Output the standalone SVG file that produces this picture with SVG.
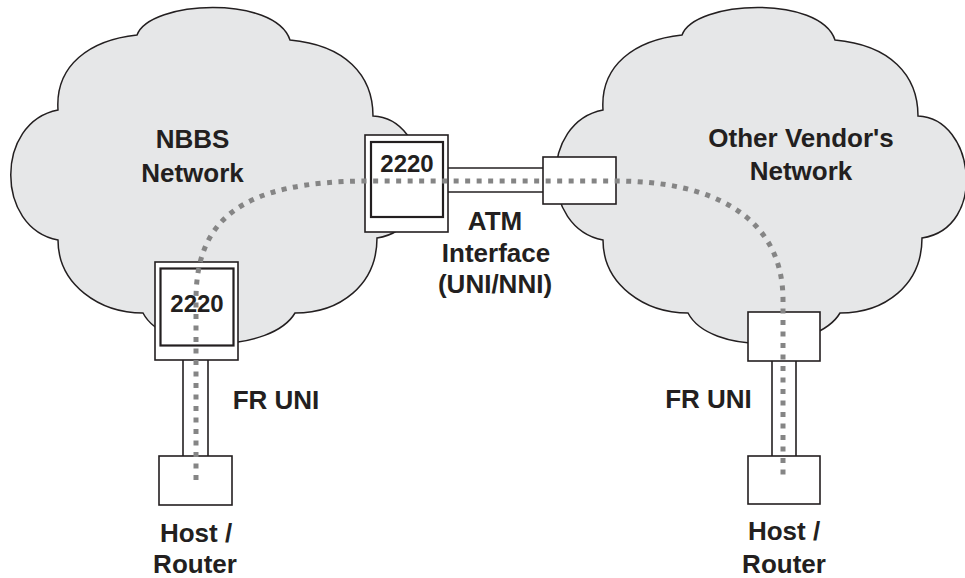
<svg xmlns="http://www.w3.org/2000/svg" width="965" height="578" viewBox="0 0 965 578">
<style>
.cloud{fill:#e6e7e8;stroke:#231f20;stroke-width:1.5}
.box{fill:#ffffff;stroke:#231f20;stroke-width:1.6}
.inner{fill:#ffffff;stroke:#231f20;stroke-width:2.2}
.pipe{fill:#ffffff;stroke:none}
.pline{stroke:#231f20;stroke-width:1.6;fill:none}
.path{fill:none;stroke:#858585;stroke-width:5;stroke-dasharray:5 6.5}
text{font-family:"Liberation Sans",Arial,sans-serif;font-weight:bold;fill:#231f20;text-anchor:middle}
.lbl{font-size:26px}
.num{font-size:24px}
</style>
<defs>
<path id="cloudShape" d="M137,35 C150,0 275,-5 290,40 C345,45 373,75 373,116 C430,118 443,228 377,238 C377,285 340,313 295,313 C272,352 165,355 143,313 C100,313 58,285 58,240 C-5,228 -5,122 58,110 C55,65 90,40 137,35 Z"/>
</defs>
<g id="cloud-nbbs">
<use href="#cloudShape" class="cloud"/>
<text class="lbl" x="192.5" y="148">NBBS</text>
<text class="lbl" x="192.5" y="182">Network</text>
</g>
<g id="cloud-other">
<use href="#cloudShape" class="cloud" transform="translate(545,0)"/>
<text class="lbl" x="801" y="147">Other Vendor's</text>
<text class="lbl" x="801" y="180">Network</text>
</g>
<g id="connectors">
<g id="pipe-atm">
<rect class="pipe" x="448" y="168" width="95" height="24"/>
<line class="pline" x1="448" y1="168" x2="543" y2="168"/>
<line class="pline" x1="448" y1="192" x2="543" y2="192"/>
</g>
<g id="pipe-fr-left">
<rect class="pipe" x="183" y="360" width="25" height="96"/>
<line class="pline" x1="183" y1="360" x2="183" y2="456"/>
<line class="pline" x1="208" y1="360" x2="208" y2="456"/>
</g>
<g id="pipe-fr-right">
<rect class="pipe" x="772" y="361" width="24" height="95"/>
<line class="pline" x1="772" y1="361" x2="772" y2="456"/>
<line class="pline" x1="796" y1="361" x2="796" y2="456"/>
</g>
</g>
<g id="node-2220-top">
<rect class="box" x="365" y="135" width="83" height="97"/>
<rect class="inner" x="371" y="142" width="72" height="75"/>
<text class="num" x="407" y="172">2220</text>
</g>
<g id="node-2220-bottom">
<rect class="box" x="155" y="262" width="83" height="98"/>
<rect class="inner" x="160.5" y="268.5" width="73" height="77"/>
<text class="num" x="197" y="312">2220</text>
</g>
<g id="node-atm-box">
<rect class="box" x="543" y="157" width="73" height="47"/>
</g>
<g id="node-other-switch">
<rect class="box" x="748" y="312" width="72" height="49"/>
</g>
<g id="node-host-left">
<rect class="box" x="159" y="456" width="73" height="49"/>
<text class="lbl" x="196" y="542">Host /</text>
<text class="lbl" x="195" y="573">Router</text>
</g>
<g id="node-host-right">
<rect class="box" x="748" y="456" width="72" height="48"/>
<text class="lbl" x="784" y="540">Host /</text>
<text class="lbl" x="784" y="573">Router</text>
</g>
<g id="connection-path">
<path class="path" d="M196,480 L196,300 C196,220 240,181 370,181 L616,181 C710,181 783,215 783,300 L783,479"/>
</g>
<g id="labels">
<text class="lbl" x="495" y="230">ATM</text>
<text class="lbl" x="496" y="262">Interface</text>
<text class="lbl" x="495" y="293">(UNI/NNI)</text>
<text class="lbl" x="276" y="409">FR UNI</text>
<text class="lbl" x="708.5" y="408">FR UNI</text>
</g>
</svg>
